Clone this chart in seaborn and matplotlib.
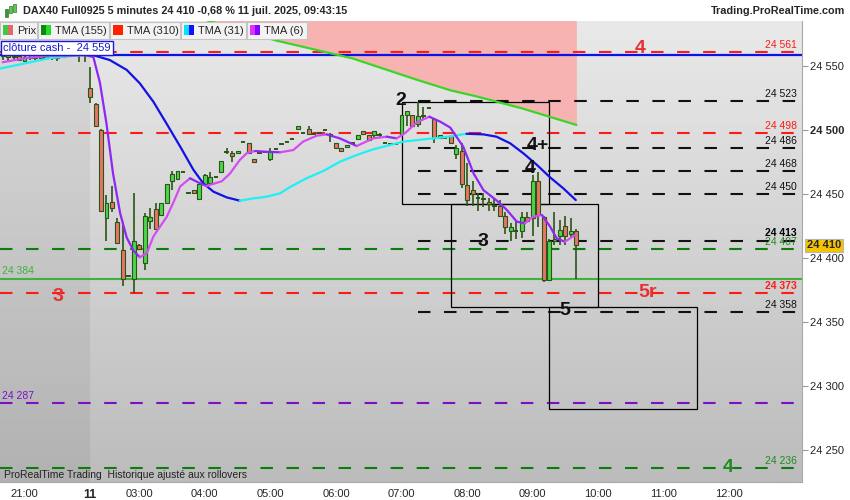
import numpy as np
import pandas as pd
import matplotlib
matplotlib.use("Agg")
import matplotlib.pyplot as plt
import seaborn as sns
from matplotlib import font_manager
from matplotlib.colors import LinearSegmentedColormap
from matplotlib.patches import Rectangle
from matplotlib.transforms import blended_transform_factory

# ---- data -------------------------------------------------------------
# 5 minute bars: evening of the 10th, then the session of the 11th
pre_times = pd.date_range("2025-07-10 20:40", "2025-07-10 21:55", freq="5min")
post_times = pd.date_range("2025-07-11 02:15", "2025-07-11 09:40", freq="5min")

opens = [24558, 24559, 24557, 24558, 24554, 24557, 24556, 24558, 24556, 24558, 24556, 24557, 24560, 24561, 24560, 24562,
         24533, 24520, 24500, 24431, 24444, 24428, 24406, 24386, 24384, 24410, 24396, 24429, 24438, 24434, 24443, 24460,
         24462, 24467, 24451, 24453, 24446, 24458, 24459, 24463, 24467, 24483, 24482, 24482, 24491, 24490, 24477, 24482,
         24483, 24477, 24485, 24489, 24491, 24493, 24501, 24498, 24501, 24497, 24498, 24500, 24497, 24490, 24486, 24487,
         24490, 24493, 24499, 24496, 24496, 24496, 24490, 24489, 24489, 24497, 24512, 24512, 24505, 24511, 24517, 24509,
         24494, 24494, 24495, 24481, 24484, 24457, 24453, 24447, 24446, 24444, 24441, 24441, 24433, 24421, 24421, 24421,
         24432, 24431, 24460, 24432, 24383, 24413, 24417, 24425, 24419, 24421]
highs = [24562, 24563, 24561, 24560, 24559, 24563, 24562, 24563, 24561, 24564, 24562, 24566, 24566, 24567, 24565, 24566,
         24549, 24521, 24501, 24449, 24456, 24431, 24428, 24386, 24451, 24411, 24435, 24439, 24443, 24443, 24458, 24468,
         24468, 24467, 24451, 24453, 24458, 24466, 24467, 24463, 24476, 24486, 24484, 24484, 24491, 24490, 24477, 24482,
         24483, 24486, 24485, 24489, 24491, 24493, 24503, 24498, 24503, 24497, 24498, 24500, 24498, 24490, 24486, 24488,
         24490, 24496, 24499, 24496, 24499, 24498, 24490, 24489, 24489, 24512, 24515, 24512, 24522, 24518, 24517, 24509,
         24496, 24494, 24495, 24488, 24490, 24474, 24460, 24451, 24451, 24447, 24446, 24445, 24436, 24427, 24429, 24436,
         24436, 24465, 24467, 24433, 24415, 24436, 24430, 24433, 24431, 24423]
lows = [24555, 24554, 24555, 24554, 24553, 24555, 24555, 24555, 24555, 24555, 24554, 24556, 24558, 24559, 24553, 24553,
        24521, 24502, 24436, 24413, 24436, 24412, 24378, 24385, 24373, 24406, 24391, 24423, 24423, 24434, 24443, 24453,
        24461, 24467, 24451, 24450, 24446, 24456, 24459, 24463, 24467, 24481, 24475, 24482, 24491, 24482, 24475, 24482,
        24483, 24476, 24485, 24489, 24491, 24493, 24500, 24498, 24497, 24497, 24498, 24500, 24491, 24486, 24484, 24487,
        24490, 24493, 24497, 24492, 24493, 24494, 24490, 24489, 24489, 24497, 24503, 24503, 24502, 24508, 24517, 24490,
        24494, 24494, 24490, 24477, 24455, 24441, 24441, 24437, 24440, 24437, 24437, 24432, 24419, 24413, 24415, 24416,
        24428, 24417, 24424, 24381, 24383, 24410, 24410, 24410, 24416, 24384]
closes = [24559, 24557, 24558, 24555, 24557, 24556, 24558, 24556, 24558, 24556, 24557, 24560, 24561, 24560, 24562, 24560,
          24526, 24503, 24437, 24443, 24439, 24412, 24384, 24386, 24413, 24407, 24433, 24432, 24423, 24443, 24458, 24466,
          24468, 24467, 24451, 24451, 24458, 24465, 24463, 24463, 24476, 24483, 24480, 24484, 24491, 24482, 24475, 24482,
          24483, 24484, 24485, 24489, 24491, 24493, 24503, 24498, 24497, 24497, 24498, 24500, 24495, 24486, 24484, 24488,
          24490, 24496, 24497, 24492, 24499, 24496, 24490, 24489, 24489, 24512, 24515, 24503, 24511, 24511, 24517, 24494,
          24496, 24494, 24490, 24486, 24458, 24445, 24450, 24447, 24446, 24442, 24441, 24433, 24424, 24424, 24421, 24432,
          24429, 24460, 24434, 24383, 24413, 24415, 24422, 24417, 24421, 24410]

# moving averages (bar index, price)
tma6_x = [-4, 0, 3.9, 8, 11.1, 12.6, 13.8, 15, 16.2, 17.5, 18.7, 19.9, 21.1, 22.4, 23.6, 24.8, 26, 27.2, 28.5, 30.3,
          32.1, 33.3, 36.1, 37.6, 39.4, 40.7, 42.2, 44.3, 46.8, 49.2, 51, 53.5, 55.3, 57.7, 60.8, 63.8, 66.3, 68.1,
          69.6, 71.8, 74.1, 76.1, 77.9, 80.3, 82.2, 84, 86.4, 88.3, 90.1, 91.6, 93.1, 94.7, 96.2, 97.4, 98.9, 100.9]
tma6_y = [24553, 24556, 24558, 24558, 24558.6, 24557, 24537, 24505, 24466, 24435, 24416, 24406, 24400.6, 24404, 24417,
          24424.5, 24432, 24443, 24456, 24462.3, 24458.4, 24456.3, 24460, 24466, 24476.6, 24482, 24483.6, 24483, 24482.6,
          24484.4, 24491, 24495.6, 24496.6, 24493.5, 24487.5, 24493.5, 24494.8, 24493.5, 24497.4, 24506, 24510.4, 24506.5,
          24502, 24487, 24466, 24453, 24445, 24437.5, 24428.4, 24427.1, 24432.3, 24433.6, 24424.5, 24415.4, 24412.7, 24418.4]
tma31_x = [-4.5, 1.5, 4.7, 10.7, 12.5, 15.6, 18.7, 21.1, 23.6, 26, 28.5, 30.9, 32.7, 34.6, 37, 39.4, 41.9, 44.3, 46.8,
           48.6, 51.6, 54.7, 57.7, 60.8, 63.8, 66.9, 69.3, 73, 76.7, 80.9, 84, 86.4, 88.9, 91.3, 93.8, 96.2, 98.6, 100.9]
tma31_y = [24548, 24553.4, 24556.2, 24558.6, 24558.6, 24554.7, 24547, 24536.5, 24522, 24505, 24487, 24469, 24458.4,
           24451.8, 24447.4, 24444.8, 24446.6, 24447.9, 24450.6, 24455.5, 24462.3, 24468, 24475.2, 24480.5, 24484.9,
           24488.3, 24490.9, 24492.7, 24494.3, 24497.1, 24496.6, 24494.8, 24489.6, 24481.8, 24472.7, 24463, 24454.5, 24445.3]
tma_long_x = [-4, 12, 30, 38, 46, 54, 60, 72, 78, 83, 91, 101]
tma155_y = [24630, 24612, 24590, 24580, 24570, 24562, 24556, 24539, 24531, 24526, 24517, 24504]
tma310_y = [24700, 24690, 24680, 24676, 24672, 24668, 24665, 24660, 24657, 24654, 24650, 24645]

# horizontal levels
full_levels = [24561, 24498, 24373, 24407, 24236, 24287]
full_colors = ["#ff1a1a", "#ff1a1a", "#ff1a1a", "#0a7d0a", "#0a7d0a", "#7a10c8"]
black_levels = [24523, 24486, 24468, 24450, 24413, 24358]
cash_close = 24559
support = 24384
last_price = 24410

right_labels = ["24 561", "24 523", "24 498", "24 486", "24 468", "24 450", "24 413", "24 407", "24 373", "24 358", "24 236"]
right_values = [24561, 24523, 24498, 24486, 24468, 24450, 24413, 24407, 24373, 24358, 24236]
right_colors = ["#ff1a1a", "#111111", "#ff1a1a", "#111111", "#111111", "#111111", "#000000", "#1f8a1f", "#ff1a1a", "#111111", "#1f8a1f"]
right_bold = [False, False, False, False, False, False, True, False, True, False, False]

# boxes: start, end, low, high
boxes = [("07:00", "09:15", 24442, 24522), ("07:45", "10:00", 24362, 24442), ("09:15", "11:30", 24282, 24362)]
black_start = "07:15"

# wave marks: text, bar index, price, colour
marks = [("4", 112.6, 24564, "#e83030"), ("2", 68.9, 24523, "#111111"), ("4+", 94.0, 24488, "#111111"),
         ("4", 92.5, 24470, "#111111"), ("3", 83.9, 24413, "#111111"), ("3", 6.1, 24370, "#e83030"),
         ("5r", 114.1, 24373, "#e83030"), ("5", 98.9, 24359, "#111111"), ("4", 128.8, 24236, "#1f8a1f")]

tick_times = ["21:00", "03:00", "04:00", "05:00", "06:00", "07:00", "08:00", "09:00", "10:00", "11:00", "12:00"]
price_ticks = [24550, 24500, 24450, 24400, 24350, 24300, 24250]


def bar_pos(hhmm):
    h, m = map(int, hhmm.split(":"))
    if h >= 20:
        return -4 + ((h - 20) * 60 + m - 40) / 5
    return 12 + ((h - 2) * 60 + m - 15) / 5


def fmt(v):
    return f"{v:,}".replace(",", " ")


# ---- style ------------------------------------------------------------
sns.set_style("white")
names = {f.name for f in font_manager.fontManager.ttflist}
narrow = "Liberation Sans Narrow" if "Liberation Sans Narrow" in names else "Liberation Sans"
plt.rcParams["font.family"] = ["Liberation Sans", "DejaVu Sans"]

fig = plt.figure(figsize=(8.5, 5), dpi=100)
fig.patch.set_facecolor("white")
ax = fig.add_axes([0, 18 / 500, 802 / 850, 461 / 500])
x_lo, x_hi = -4.49, 142.3
y_lo, y_hi = 24225, 24585.2
ax.set_xlim(x_lo, x_hi)
ax.set_ylim(y_lo, y_hi)

# background gradient + previous day shade
grad = np.linspace(0, 1, 256).reshape(-1, 1)
cmap = LinearSegmentedColormap.from_list("bg", ["#e9e9e9", "#bcbcbc"])
ax.imshow(grad, extent=[x_lo, x_hi, y_lo, y_hi], origin="upper", cmap=cmap, aspect="auto", zorder=0)
ax.axvspan(x_lo, 11.95, color="black", alpha=0.055, lw=0, zorder=0.5)

# TMA 155 / 310 band
ax.fill_between(tma_long_x, tma155_y, tma310_y, color="#f7b2b2", lw=0, zorder=1)

# levels
dash = (0, (6, 6.5))
for lev, col in zip(full_levels, full_colors):
    ax.plot([x_lo, 141.6], [lev, lev], ls=dash, lw=1.5, color=col, zorder=2)
for lev in black_levels:
    ax.plot([bar_pos(black_start), 141.6], [lev, lev], ls=dash, lw=1.5, color="#111111", zorder=2)
ax.axhline(cash_close, color="#0a14e6", lw=1.6, zorder=2)
ax.axhline(support, color="#3cb43c", lw=1.5, zorder=2)

for t0, t1, lo, hi in boxes:
    ax.add_patch(Rectangle((bar_pos(t0), lo), bar_pos(t1) - bar_pos(t0), hi - lo,
                           fill=False, ec="black", lw=0.9, zorder=2.5))

# candles
x = np.arange(-4, 102)
o, h, l, c = (np.array(v, dtype=float) for v in (opens, highs, lows, closes))
wick = "#2b5516"
up, down, flat = c > o, c < o, c == o
ax.vlines(x, l, h, color=wick, lw=1.2, zorder=3)
ax.bar(x[up], (c - o)[up], bottom=o[up], width=0.72, color="#4cd44c", edgecolor=wick, lw=0.8, zorder=4)
ax.bar(x[down], (o - c)[down], bottom=c[down], width=0.72, color="#e87468", edgecolor=wick, lw=0.8, zorder=4)
ax.hlines(o[flat], x[flat] - 0.4, x[flat] + 0.4, color=wick, lw=1.4, zorder=4)


def draw_ma(xs, ys, up_col, down_col):
    xs, ys = np.asarray(xs), np.asarray(ys)
    rising = np.diff(ys) >= 0
    start = 0
    for i in range(1, len(rising) + 1):
        if i == len(rising) or rising[i] != rising[start]:
            sns.lineplot(x=xs[start:i + 1], y=ys[start:i + 1], color=up_col if rising[start] else down_col,
                         lw=1.6, ax=ax, sort=False, estimator=None, zorder=5)
            start = i


draw_ma(tma31_x, tma31_y, "#1ef0f5", "#1212e6")
draw_ma(tma6_x, tma6_y, "#d54cf0", "#9026f5")
sns.lineplot(x=tma_long_x, y=tma155_y, color="#3ad626", lw=1.6, ax=ax, estimator=None, zorder=5)

# labels on the lines
for txt, v, col, b in zip(right_labels, right_values, right_colors, right_bold):
    ax.annotate(txt, (141.4, v), xytext=(0, 2.2 if txt == "24 413" else 1.2), textcoords="offset points",
                ha="right", va="bottom", fontsize=7.5, color=col, fontweight="bold" if b else "normal", zorder=6)
ax.annotate(fmt(support), (-4.1, support), xytext=(0, 1.5), textcoords="offset points", va="bottom",
            fontsize=7.5, color="#3cb43c", zorder=6)
ax.annotate(fmt(24287), (-4.1, 24287), xytext=(0, 1.5), textcoords="offset points", va="bottom",
            fontsize=7.5, color="#7a10c8", zorder=6)

for txt, n, p, col in marks:
    ax.text(n, p, txt, ha="center", va="center", fontsize=14, fontweight="bold", color=col, zorder=6)

# axes
ax.set_xlabel("")
ax.set_ylabel("")
for s in ("top", "left"):
    ax.spines[s].set_visible(False)
for s in ("right", "bottom"):
    ax.spines[s].set_color("#a8a8a8")
    ax.spines[s].set_linewidth(0.8)
ax.yaxis.tick_right()
ax.set_yticks(price_ticks, [fmt(v) for v in price_ticks])
for lbl in ax.get_yticklabels():
    if lbl.get_text() == "24 500":
        lbl.set_fontweight("bold")
ax.tick_params(axis="y", length=4, color="#9a9a9a", labelsize=8, pad=2)
ax.set_xticks([bar_pos(t) for t in tick_times[:1]] + [12] + [bar_pos(t) for t in tick_times[1:]],
              tick_times[:1] + ["11"] + tick_times[1:])
ax.tick_params(axis="x", length=3, color="#9a9a9a", labelsize=8, pad=2)
for lbl in ax.get_xticklabels():
    lbl.set_fontfamily(narrow)
    if lbl.get_text() == "11":
        lbl.set_fontweight("bold")
        lbl.set_fontsize(9)

tr = blended_transform_factory(ax.transAxes, ax.transData)
ax.text(1.006, last_price, fmt(last_price), transform=tr, va="center", ha="left", fontsize=8, fontweight="bold",
        bbox=dict(boxstyle="square,pad=0.15", fc="#f5c400", ec="#b5b5b5", lw=0.8), zorder=7, clip_on=False)


# ---- header -----------------------------------------------------------
def fx(px):
    return px / 850


def fy(py):
    return 1 - py / 500


fig.add_artist(Rectangle((0, fy(20)), 1, 20 / 500, transform=fig.transFigure, fc="white", ec="none", zorder=10))
for px0, py0, hh, col in [(5, 9, 8, "#2f9e2f"), (9, 6, 7, "#56c956"), (13, 4, 8, "#56c956")]:
    fig.add_artist(Rectangle((fx(px0), fy(py0 + hh)), 3 / 850, hh / 500, transform=fig.transFigure,
                             fc=col, ec="#2b5516", lw=0.4, zorder=11))
fig.text(fx(23), fy(11), "DAX40 Full0925 5 minutes 24 410 -0,68 % 11 juil. 2025, 09:43:15", fontsize=7.8,
         fontweight="bold", va="center", zorder=11)
fig.text(fx(845), fy(11), "Trading.ProRealTime.com", fontsize=7.8, fontweight="bold", va="center", ha="right",
         zorder=11)

legend_items = [("Prix", 0, 37, "#44c844", "#e06a6a"), ("TMA (155)", 38, 109, "#0a8a0a", "#22dd22"),
                ("TMA (310)", 110, 180, "#ff2200", "#ff2200"), ("TMA (31)", 181, 246, "#00e5ff", "#1010ff"),
                ("TMA (6)", 247, 307, "#dd33ff", "#8800ff")]
for name, x0, x1, c1, c2 in legend_items:
    fig.add_artist(Rectangle((fx(x0), fy(39)), (x1 - x0) / 850, 17 / 500, transform=fig.transFigure,
                             fc="#f3f3f3", ec="#c4c4c4", lw=0.8, zorder=10))
    fig.add_artist(Rectangle((fx(x0 + 3), fy(35)), 5 / 850, 10 / 500, transform=fig.transFigure, fc=c1, ec="none", zorder=11))
    fig.add_artist(Rectangle((fx(x0 + 8), fy(35)), 5 / 850, 10 / 500, transform=fig.transFigure, fc=c2, ec="none", zorder=11))
    fig.text(fx(x0 + 17), fy(30.5), name, fontsize=8, va="center", zorder=11)

fig.text(fx(3), fy(48), "clôture cash -  " + fmt(cash_close), fontsize=8, color="#1a1ad6", va="center", zorder=12,
         bbox=dict(boxstyle="square,pad=0.2", fc="white", ec="#1a1ad6", lw=1))
fig.text(fx(4), fy(475), "ProRealTime Trading  Historique ajusté aux rollovers", fontsize=7.5, color="#222222",
         va="center", family=narrow, zorder=12)

fig.savefig("out.png", dpi=100)
